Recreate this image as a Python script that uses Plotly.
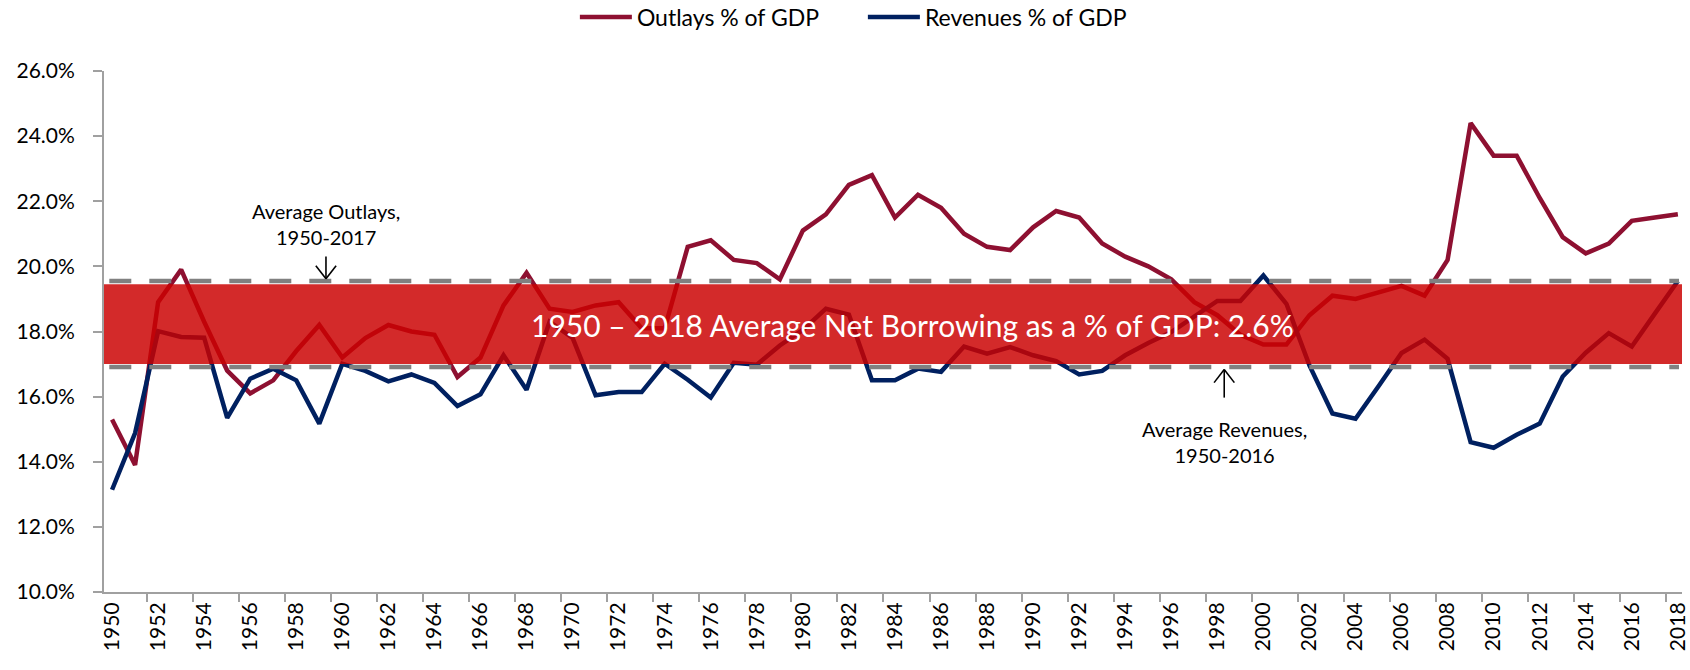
import plotly.graph_objects as go

# Fiscal years shown on the category axis
years = [str(y) for y in range(1950, 2019)]

# Federal outlays, % of GDP
outlays = [15.3, 13.9, 18.9, 19.9, 18.3, 16.8, 16.1, 16.5, 17.4, 18.2,
           17.2, 17.8, 18.2, 18.0, 17.9, 16.6, 17.2, 18.8, 19.8, 18.7,
           18.6, 18.8, 18.9, 18.1, 18.1, 20.6, 20.8, 20.2, 20.1, 19.6,
           21.1, 21.6, 22.5, 22.8, 21.5, 22.2, 21.8, 21.0, 20.6, 20.5,
           21.2, 21.7, 21.5, 20.7, 20.3, 20.0, 19.6, 18.9, 18.5, 17.9,
           17.6, 17.6, 18.5, 19.1, 19.0, 19.2, 19.4, 19.1, 20.2, 24.4,
           23.4, 23.4, 22.1, 20.9, 20.4, 20.7, 21.4, 21.5, 21.6]

# Federal revenues, % of GDP
revenues = [13.14, 14.88, 18.01, 17.83, 17.81, 15.35, 16.55, 16.86, 16.50, 15.17,
            17.01, 16.79, 16.47, 16.68, 16.42, 15.71, 16.07, 17.27, 16.21, 18.30,
            17.80, 16.04, 16.14, 16.14, 17.01, 16.52, 15.97, 17.04, 16.98, 17.57,
            18.05, 18.70, 18.52, 16.50, 16.50, 16.86, 16.76, 17.54, 17.32, 17.52,
            17.27, 17.09, 16.68, 16.79, 17.27, 17.65, 17.98, 18.44, 18.94, 18.94,
            19.72, 18.85, 16.96, 15.48, 15.32, 16.32, 17.34, 17.75, 17.16, 14.60,
            14.43, 14.83, 15.17, 16.62, 17.35, 17.95, 17.54, 18.55, 19.55]

# Long-run averages (% of GDP)
avg_outlays = 19.55
avg_revenues = 16.91
net_borrowing = 2.6

y_ticks = [10, 12, 14, 16, 18, 20, 22, 24, 26]

FONT = "Lato"
OUTLAY_COLOR = "#8E1031"
REVENUE_COLOR = "#002060"
AXIS_COLOR = "#A0A0A0"

fig = go.Figure()
fig.add_trace(go.Scatter(x=years, y=outlays, mode="lines", name="Outlays % of GDP",
                         line=dict(color=OUTLAY_COLOR, width=4.5)))
fig.add_trace(go.Scatter(x=years, y=revenues, mode="lines", name="Revenues % of GDP",
                         line=dict(color=REVENUE_COLOR, width=4.5)))

last = len(years) - 1

# Translucent band spanning the gap between the two averages
fig.add_shape(type="rect", xref="x", yref="y", layer="above",
              x0=-0.35, x1=last + 0.18,
              y0=avg_revenues + 0.09, y1=avg_outlays - 0.1,
              fillcolor="rgba(203,1,1,0.84)", line=dict(width=0))

# Dashed average lines
for level in (avg_outlays, avg_revenues):
    fig.add_shape(type="line", xref="x", yref="y", layer="above",
                  x0=-0.12, x1=last + 0.05, y0=level, y1=level,
                  line=dict(color="#808080", width=4.5, dash="22px,18px"))


def add_arrow(x, tip, shaft, direction):
    """Thin open-headed arrow; direction -1 points down, +1 points up."""
    head_dx, head_dy = 0.44, 0.40
    tail = tip - direction * shaft
    back = tip - direction * head_dy
    style = dict(color="black", width=1.6)
    for x0, y0, x1, y1 in ((x, tail, x, tip),
                           (x - head_dx, back, x, tip),
                           (x + head_dx, back, x, tip)):
        fig.add_shape(type="line", xref="x", yref="y", layer="above",
                      x0=x0, y0=y0, x1=x1, y1=y1, line=style)


# Band caption
fig.add_annotation(x=34.75, y=18.2, xref="x", yref="y", showarrow=False,
                   text=f"1950 – 2018 Average Net Borrowing as a % of GDP: {net_borrowing}%",
                   font=dict(family=FONT, size=30, color="white"))

# Average outlays label and arrow
fig.add_annotation(x=9.29, y=21.3, xref="x", yref="y", showarrow=False,
                   text="Average Outlays,<br>1950-2017",
                   font=dict(family=FONT, size=20, color="black"))
add_arrow(9.29, avg_outlays + 0.07, 0.68, -1)

# Average revenues label and arrow
fig.add_annotation(x=48.3, y=14.6, xref="x", yref="y", showarrow=False,
                   text="Average Revenues,<br>1950-2016",
                   font=dict(family=FONT, size=20, color="black"))
add_arrow(48.3, avg_revenues - 0.08, 0.86, 1)

fig.update_layout(
    width=1690, height=670,
    margin=dict(l=104, r=8, t=71, b=78, autoexpand=False),
    paper_bgcolor="white", plot_bgcolor="white",
    font=dict(family=FONT, color="black"),
    showlegend=True,
    legend=dict(orientation="h", x=0.2984, xanchor="left",
                yref="paper", y=1.1036, yanchor="middle",
                font=dict(family=FONT, size=23, color="black"),
                itemwidth=52, entrywidth=221, entrywidthmode="pixels",
                bgcolor="rgba(0,0,0,0)"),
)

fig.update_xaxes(type="category", tickmode="linear", tick0=0, dtick=2,
                 tickson="boundaries", ticks="outside", ticklen=8, tickwidth=2,
                 tickcolor=AXIS_COLOR, showline=True, linecolor=AXIS_COLOR, linewidth=2,
                 showgrid=False, tickangle=-90,
                 tickfont=dict(family=FONT, size=21, color="black"))

fig.update_yaxes(range=[10, 26], tickvals=y_ticks,
                 ticktext=[f"{v:.1f}%" for v in y_ticks],
                 ticks="outside", ticklen=9, tickwidth=2, tickcolor=AXIS_COLOR,
                 showline=True, linecolor=AXIS_COLOR, linewidth=2, showgrid=False,
                 zeroline=False, ticklabelstandoff=14,
                 tickfont=dict(family=FONT, size=21, color="black"))

fig.write_html("out.html")
